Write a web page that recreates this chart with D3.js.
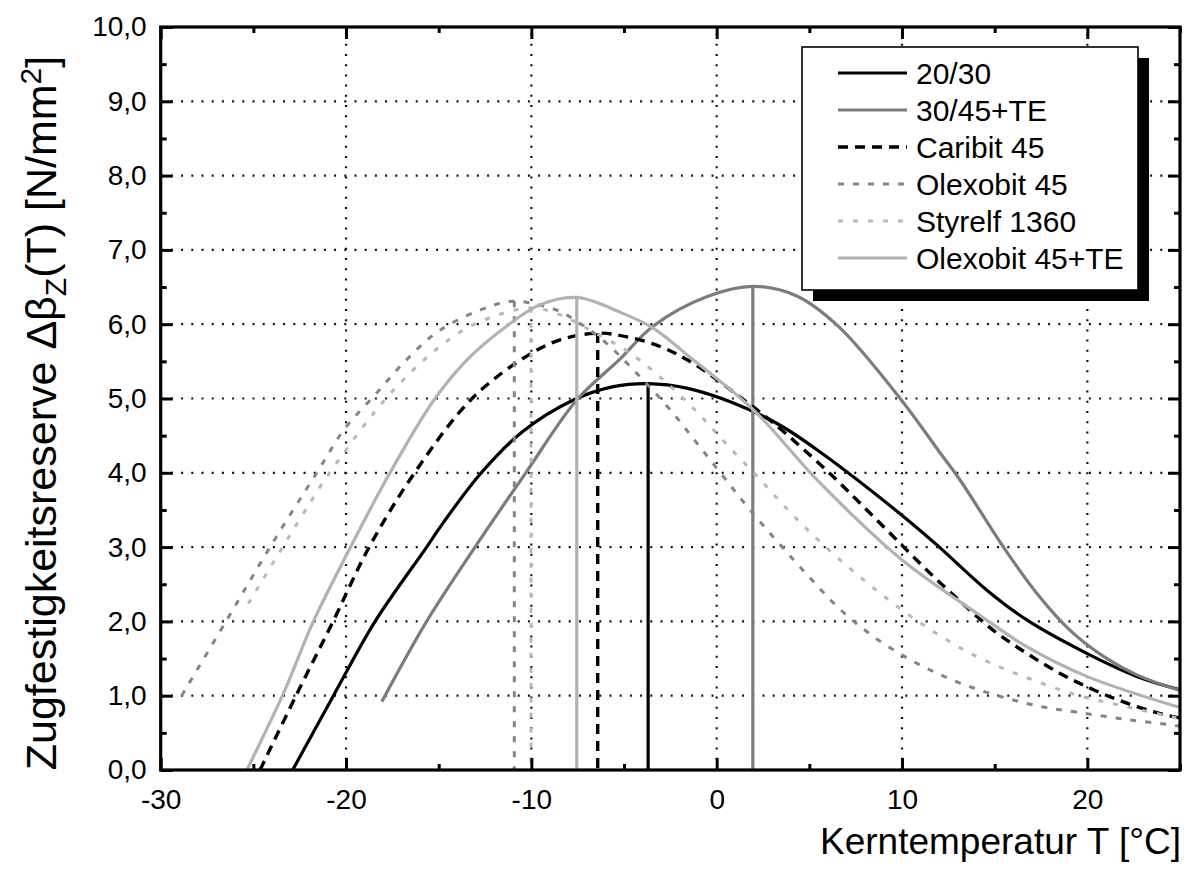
<!DOCTYPE html>
<html><head><meta charset="utf-8">
<script src="https://cdn.jsdelivr.net/npm/d3@7"></script>
<style>
body{margin:0;background:#fff}
svg{display:block;background:#fff}
text{font-family:"Liberation Sans",Arial,Helvetica,sans-serif;fill:#000}
</style>
</head><body><svg id="c" width="1194" height="869"></svg>
<script>
// ---------- data ----------
const seriesNames = ["20/30", "30/45+TE", "Caribit 45", "Olexobit 45", "Styrelf 1360", "Olexobit 45+TE"];

const t2030 = [-22.88, -20.68, -18.43, -15.65, -14.75, -12.7, -10.5, -7.73, -5.57, -3.7, -1.62, 0.9, 3.42, 5.58, 9.99, 11.88, 14.58, 16.73, 19.97, 22.67, 25];
const v2030 = [0, 1.0, 2.0, 3.0, 3.33, 4.0, 4.55, 4.98, 5.16, 5.2, 5.14, 4.94, 4.64, 4.28, 3.43, 3.03, 2.42, 2.02, 1.57, 1.26, 1.08];

const t3045 = [-18.07, -15.65, -13.04, -10.3, -7.55, -5.22, -3.4, -0.54, 1.95, 4.32, 6.57, 9.9, 12.08, 13.14, 15.5, 17.27, 19.07, 20.87, 22.67, 25];
const v3045 = [0.92, 2.0, 3.0, 4.0, 4.98, 5.53, 5.98, 6.37, 6.51, 6.38, 5.97, 5.0, 4.26, 3.9, 2.99, 2.38, 1.88, 1.53, 1.28, 1.07];

const tCaribit = [-24.64, -22.7, -20.7, -18.75, -16.3, -13.2, -10.25, -8.45, -6.42, -4.85, -3.05, -1.25, 1.26, 3.06, 5.9, 7.74, 9.54, 11.34, 13.14, 14.93, 16.73, 18.53, 20.33, 22.13, 23.93, 25];
const vCaribit = [0, 1.0, 2.0, 3.0, 4.0, 5.0, 5.57, 5.79, 5.88, 5.83, 5.70, 5.47, 5.02, 4.67, 4.04, 3.59, 3.14, 2.69, 2.27, 1.88, 1.57, 1.30, 1.08, 0.90, 0.76, 0.70];

const tOlex = [-28.87, -26.48, -24.1, -21.58, -20.05, -18.43, -16.82, -14.93, -12.23, -10.92, -8.63, -7.37, -5.93, -4.13, -2.51, -1.07, 0.36, 1.8, 4.98, 6.71, 8.44, 10.26, 12.08, 13.9, 15.73, 17.56, 19.38, 22.13, 24.47, 25];
const vOlex = [1.0, 2.0, 3.0, 4.0, 4.6, 5.05, 5.5, 5.92, 6.24, 6.31, 6.19, 6.01, 5.74, 5.29, 4.85, 4.40, 3.95, 3.50, 2.60, 2.15, 1.80, 1.51, 1.28, 1.10, 0.96, 0.85, 0.78, 0.68, 0.61, 0.59];

const tStyrelf = [-25.27, -23.74, -21.4, -20.77, -18.8, -17.45, -15.47, -13.67, -11.87, -10.02, -8.6, -6.83, -4.67, -2.88, -1.07, 0.55, 2.34, 3.96, 5.76, 8.46, 11.16, 13.85, 16.55, 19.43, 22.13, 24.83, 25];
const vStyrelf = [2.24, 2.87, 3.81, 4.04, 4.71, 5.11, 5.59, 5.92, 6.12, 6.22, 6.14, 5.92, 5.61, 5.25, 4.82, 4.38, 3.91, 3.47, 3.03, 2.45, 1.95, 1.55, 1.26, 1.01, 0.85, 0.70, 0.69];

const tOlexTE = [-25.35, -23.38, -21.76, -19.88, -17.63, -15.2, -13.31, -11.3, -9.55, -7.55, -5.2, -3.45, -1.27, 1.97, 5.55, 9.99, 14.04, 16.73, 19.97, 25];
const vOlexTE = [0, 1.03, 2.0, 2.94, 4.0, 5.0, 5.56, 5.98, 6.26, 6.36, 6.16, 5.95, 5.52, 4.85, 3.87, 2.83, 2.11, 1.66, 1.26, 0.84];

const xTickValues = [-30, -20, -10, 0, 10, 20];
const xTickLabels = ["-30", "-20", "-10", "0", "10", "20"];
const xMinorValues = [-25, -15, -5, 5, 15, 25];
const yTickValues = [0, 1, 2, 3, 4, 5, 6, 7, 8, 9, 10];
const yTickLabels = ["0,0", "1,0", "2,0", "3,0", "4,0", "5,0", "6,0", "7,0", "8,0", "9,0", "10,0"];
const yMinorValues = [0.5, 1.5, 2.5, 3.5, 4.5, 5.5, 6.5, 7.5, 8.5, 9.5];
const xGridValues = [-20, -10, 0, 10, 20];
const yGridValues = [1, 2, 3, 4, 5, 6, 7, 8, 9];

// ---------- styles (separate from data) ----------
const styles = [
  {color: "#000000", width: 3.2, dash: null},
  {color: "#7c7c7c", width: 3.2, dash: null},
  {color: "#000000", width: 3.4, dash: "10,7"},
  {color: "#858585", width: 3.0, dash: "6,9"},
  {color: "#b8b8b8", width: 3.0, dash: "5,10"},
  {color: "#b2b2b2", width: 3.2, dash: null}
];

const seriesT = [t2030, t3045, tCaribit, tOlex, tStyrelf, tOlexTE];
const seriesV = [v2030, v3045, vCaribit, vOlex, vStyrelf, vOlexTE];
const series = seriesNames.map((name, i) => ({
  name,
  pts: seriesT[i].map((t, j) => ({t, v: seriesV[i][j]})),
  style: styles[i]
}));

// ---------- layout ----------
const svg = d3.select("#c");
const L = 160.7, R = 1180, T = 27, B = 770;
const x = d3.scaleLinear().domain([-30, 25]).range([L, R]);
const y = d3.scaleLinear().domain([0, 10]).range([B, T]);

// grid
const grid = svg.append("g").attr("stroke", "#111").attr("stroke-width", 2.2).attr("stroke-dasharray", "2,8.2");
grid.selectAll(".gx").data(xGridValues).join("line")
  .attr("x1", d => x(d)).attr("x2", d => x(d)).attr("y1", B).attr("y2", T);
grid.selectAll(".gy").data(yGridValues).join("line")
  .attr("y1", d => y(d)).attr("y2", d => y(d)).attr("x1", L).attr("x2", R);

// curves
const plot = svg.append("g");
const line = d3.line().x(d => x(d.t)).y(d => y(d.v)).curve(d3.curveCatmullRom.alpha(0.5));
series.forEach(s => {
  const pk = s.pts[d3.maxIndex(s.pts, d => d.v)];
  const g = plot.append("g").attr("fill", "none").attr("stroke", s.style.color)
    .attr("stroke-width", s.style.width);
  if (s.style.dash) g.attr("stroke-dasharray", s.style.dash);
  g.append("line").attr("x1", x(pk.t)).attr("x2", x(pk.t)).attr("y1", y(pk.v)).attr("y2", y(0));
  g.append("path").attr("d", line(s.pts));
});

// axes (ticks pointing inward on all four sides)
function styleAxis(g) {
  g.select(".domain").remove();
  g.selectAll(".tick line").attr("stroke", "#000").attr("stroke-width", 3);
}
const bottom = svg.append("g").attr("transform", `translate(0,${B})`)
  .call(d3.axisBottom(x).tickValues(xTickValues).tickSizeInner(-12).tickSizeOuter(0)
        .tickFormat((d, i) => xTickLabels[i]).tickPadding(19));
styleAxis(bottom);
bottom.selectAll(".tick text").attr("font-size", 28).attr("font-family", "Liberation Sans, Arial, sans-serif").attr("fill", "#000");
svg.append("g").attr("transform", `translate(0,${B})`)
  .call(d3.axisBottom(x).tickValues(xMinorValues).tickSizeInner(-6).tickSizeOuter(0).tickFormat(""))
  .call(styleAxis);
svg.append("g").attr("transform", `translate(0,${T})`)
  .call(d3.axisTop(x).tickValues(xTickValues).tickSizeInner(-12).tickSizeOuter(0).tickFormat(""))
  .call(styleAxis);
svg.append("g").attr("transform", `translate(0,${T})`)
  .call(d3.axisTop(x).tickValues(xMinorValues).tickSizeInner(-6).tickSizeOuter(0).tickFormat(""))
  .call(styleAxis);

const left = svg.append("g").attr("transform", `translate(${L},0)`)
  .call(d3.axisLeft(y).tickValues(yTickValues).tickSizeInner(-12).tickSizeOuter(0)
        .tickFormat((d, i) => yTickLabels[i]).tickPadding(14));
styleAxis(left);
left.selectAll(".tick text").attr("font-size", 28).attr("font-family", "Liberation Sans, Arial, sans-serif").attr("fill", "#000");
svg.append("g").attr("transform", `translate(${L},0)`)
  .call(d3.axisLeft(y).tickValues(yMinorValues).tickSizeInner(-6).tickSizeOuter(0).tickFormat(""))
  .call(styleAxis);
svg.append("g").attr("transform", `translate(${R},0)`)
  .call(d3.axisRight(y).tickValues(yTickValues).tickSizeInner(-12).tickSizeOuter(0).tickFormat(""))
  .call(styleAxis);
svg.append("g").attr("transform", `translate(${R},0)`)
  .call(d3.axisRight(y).tickValues(yMinorValues).tickSizeInner(-6).tickSizeOuter(0).tickFormat(""))
  .call(styleAxis);

// frame
svg.append("rect").attr("x", L).attr("y", T).attr("width", R - L).attr("height", B - T)
  .attr("fill", "none").attr("stroke", "#000").attr("stroke-width", 3.2);

// axis titles
svg.append("text").attr("x", 1181).attr("y", 854).attr("text-anchor", "end")
  .attr("font-size", 37).text("Kerntemperatur T [°C]");

const yt = svg.append("text").attr("transform", "translate(56,413) rotate(-90)")
  .attr("text-anchor", "middle").attr("font-size", 43);
yt.append("tspan").text("Zugfestigkeitsreserve Δβ");
yt.append("tspan").attr("font-size", 30).attr("dy", 10).text("Z");
yt.append("tspan").attr("dy", -10).text("(T) [N/mm");
yt.append("tspan").attr("font-size", 30).attr("dy", -15).text("2");
yt.append("tspan").attr("dy", 15).text("]");

// legend
const lg = svg.append("g");
const lx = 802, ly = 47, lw = 336, lh = 243;
lg.append("rect").attr("x", lx + 11).attr("y", ly + 11).attr("width", lw).attr("height", lh).attr("fill", "#000");
lg.append("rect").attr("x", lx).attr("y", ly).attr("width", lw).attr("height", lh)
  .attr("fill", "#fff").attr("stroke", "#000").attr("stroke-width", 1.6);
const rowY = d3.scaleLinear().domain([0, 5]).range([ly + 26, ly + 211]);
series.forEach((s, i) => {
  const yy = rowY(i);
  const l = lg.append("line").attr("x1", 838).attr("x2", 907).attr("y1", yy).attr("y2", yy)
    .attr("stroke", s.style.color).attr("stroke-width", s.style.width);
  if (s.style.dash) l.attr("stroke-dasharray", s.style.dash);
  lg.append("text").attr("x", 916).attr("y", yy).attr("dy", "0.36em").attr("font-size", 30).text(s.name);
});
</script>
</body></html>
